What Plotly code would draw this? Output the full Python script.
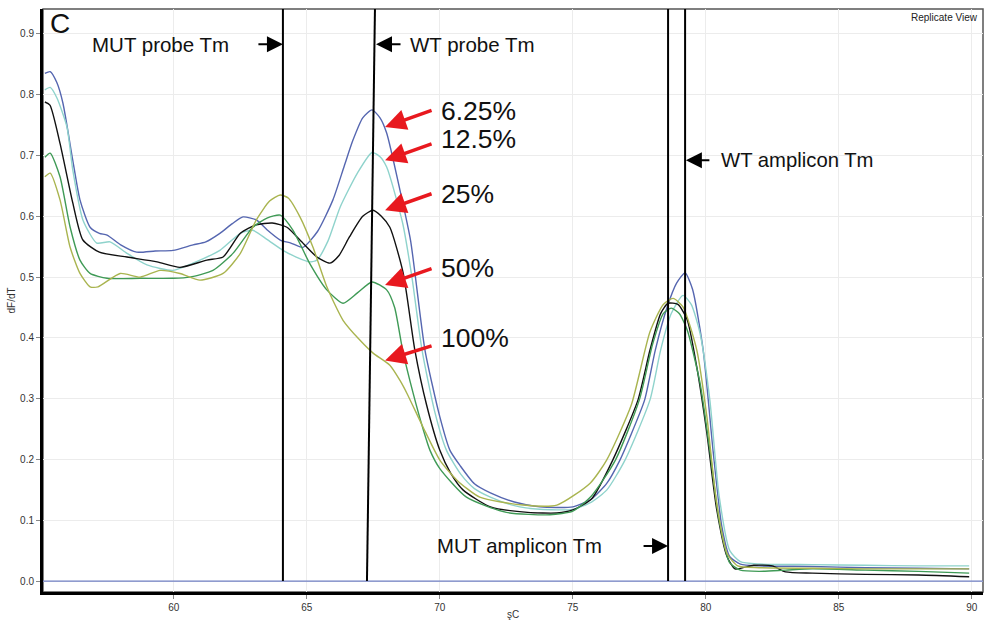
import plotly.graph_objects as go

# ---------------- data ----------------
blue_x = [55.15, 55.35, 55.6, 55.83, 56.2, 56.47, 56.85, 57.2, 57.49, 58.0, 58.6, 59.3, 59.97, 60.72, 61.2, 61.73, 62.2, 62.6, 63.1, 63.5, 64.0, 64.4, 64.85, 65.4, 65.98, 66.4, 66.73, 67.1, 67.45, 67.75, 68.0, 68.5, 68.9, 69.44, 70.0, 70.38, 70.76, 71.3, 71.9, 72.8, 73.76, 75.0, 75.7, 76.28, 76.77, 77.15, 77.7, 78.1, 78.54, 78.9, 79.22, 79.5, 79.9, 80.27, 80.6, 80.9, 81.3, 82.0, 84.0, 86.0, 88.0, 89.9]
blue_y = [0.835, 0.838, 0.82, 0.786, 0.692, 0.627, 0.582, 0.572, 0.569, 0.553, 0.541, 0.543, 0.544, 0.553, 0.558, 0.572, 0.588, 0.599, 0.594, 0.578, 0.561, 0.556, 0.549, 0.575, 0.627, 0.682, 0.725, 0.762, 0.775, 0.762, 0.737, 0.643, 0.56, 0.38, 0.27, 0.215, 0.19, 0.16, 0.145, 0.13, 0.122, 0.122, 0.135, 0.161, 0.199, 0.237, 0.298, 0.38, 0.45, 0.49, 0.507, 0.48, 0.38, 0.215, 0.09, 0.04, 0.028, 0.025, 0.024, 0.022, 0.021, 0.02]

cyan_x = [55.15, 55.35, 55.6, 55.98, 56.2, 56.58, 57.1, 57.6, 58.24, 58.99, 59.97, 60.72, 61.73, 62.5, 62.97, 63.5, 64.1, 64.6, 65.1, 65.38, 65.8, 66.25, 66.9, 67.45, 67.75, 68.0, 68.6, 68.95, 69.33, 69.8, 70.25, 70.8, 71.3, 71.9, 72.8, 73.76, 75.0, 75.7, 76.28, 76.96, 77.9, 78.3, 78.7, 79.14, 79.45, 79.78, 80.15, 80.5, 80.9, 81.3, 82.0, 84.0, 86.0, 88.0, 89.9]
cyan_y = [0.808, 0.812, 0.795, 0.747, 0.676, 0.594, 0.556, 0.558, 0.539, 0.52, 0.511, 0.523, 0.544, 0.572, 0.577, 0.562, 0.544, 0.533, 0.525, 0.528, 0.56, 0.615, 0.671, 0.705, 0.698, 0.681, 0.589, 0.5, 0.38, 0.28, 0.215, 0.175, 0.152, 0.138, 0.124, 0.118, 0.118, 0.13, 0.15, 0.199, 0.298, 0.38, 0.44, 0.47, 0.455, 0.408, 0.298, 0.14, 0.05, 0.032, 0.028, 0.027, 0.026, 0.025, 0.025]

black_x = [55.15, 55.34, 55.72, 56.2, 56.58, 57.2, 58.24, 59.37, 60.23, 61.24, 61.85, 62.5, 63.1, 63.7, 64.25, 64.74, 65.38, 65.87, 66.2, 66.6, 67.1, 67.49, 67.8, 68.12, 68.62, 69.06, 69.5, 70.0, 70.4, 70.87, 71.9, 73.3, 74.4, 75.0, 75.7, 76.5, 77.45, 77.9, 78.3, 78.58, 78.95, 79.3, 79.66, 80.04, 80.4, 80.8, 81.1, 81.4, 81.8, 82.5, 83.0, 84.0, 86.0, 88.0, 89.9]
black_y = [0.788, 0.783, 0.72, 0.622, 0.561, 0.541, 0.533, 0.525, 0.516, 0.528, 0.533, 0.572, 0.586, 0.589, 0.582, 0.561, 0.533, 0.523, 0.535, 0.566, 0.6, 0.61, 0.6, 0.582, 0.507, 0.38, 0.29, 0.215, 0.178, 0.15, 0.122, 0.113, 0.112, 0.117, 0.135, 0.199, 0.298, 0.38, 0.44, 0.457, 0.455, 0.43, 0.352, 0.243, 0.12, 0.04, 0.02, 0.022, 0.026, 0.025, 0.015, 0.013, 0.011, 0.01, 0.007]

green_x = [55.15, 55.35, 55.72, 56.1, 56.47, 56.85, 57.49, 58.73, 59.97, 60.6, 61.47, 62.22, 62.97, 63.5, 64.0, 64.48, 65.1, 65.75, 66.36, 66.9, 67.45, 68.0, 68.3, 68.6, 68.99, 69.37, 69.63, 70.0, 71.0, 72.5, 74.14, 75.0, 75.7, 76.6, 77.5, 78.0, 78.4, 78.7, 79.0, 79.3, 79.78, 80.15, 80.5, 80.9, 81.3, 82.0, 83.0, 84.0, 86.0, 88.0, 89.9]
green_y = [0.697, 0.704, 0.665, 0.582, 0.528, 0.506, 0.498, 0.498, 0.498, 0.5, 0.511, 0.539, 0.582, 0.597, 0.602, 0.577, 0.523, 0.479, 0.457, 0.474, 0.492, 0.479, 0.45, 0.38, 0.31, 0.25, 0.215, 0.185, 0.138, 0.113, 0.109, 0.115, 0.14, 0.199, 0.298, 0.39, 0.44, 0.449, 0.44, 0.413, 0.326, 0.215, 0.1, 0.03, 0.018, 0.016, 0.018, 0.02, 0.018, 0.016, 0.013]

olive_x = [55.15, 55.35, 55.72, 56.1, 56.47, 56.85, 57.15, 57.98, 58.73, 59.48, 60.23, 60.98, 61.85, 62.5, 63.1, 63.6, 64.0, 64.3, 64.74, 65.23, 65.75, 66.36, 67.0, 67.49, 68.12, 68.5, 68.76, 69.37, 70.0, 70.64, 71.5, 73.12, 74.4, 75.65, 76.27, 77.2, 77.9, 78.4, 78.77, 79.14, 79.66, 80.04, 80.4, 80.8, 81.2, 82.0, 84.0, 86.0, 88.0, 89.9]
olive_y = [0.665, 0.671, 0.627, 0.549, 0.506, 0.484, 0.484, 0.506, 0.5, 0.511, 0.506, 0.495, 0.506, 0.539, 0.594, 0.625, 0.635, 0.63, 0.599, 0.549, 0.484, 0.429, 0.396, 0.375, 0.355, 0.33, 0.309, 0.253, 0.199, 0.166, 0.138, 0.125, 0.125, 0.161, 0.199, 0.29, 0.41, 0.455, 0.465, 0.451, 0.38, 0.27, 0.13, 0.045, 0.025, 0.022, 0.021, 0.02, 0.02, 0.02]

series_names = ["6.25%", "12.5%", "25%", "50%", "100%"]
series_colors = ["#5566b0", "#8fd3cc", "#111111", "#3f9a56", "#a9b44f"]

x_ticks = [60, 65, 70, 75, 80, 85, 90]
y_ticks = [0.0, 0.1, 0.2, 0.3, 0.4, 0.5, 0.6, 0.7, 0.8, 0.9]

mut_probe_tm = 64.1
wt_probe_tm_top, wt_probe_tm_bottom = 67.56, 67.26
mut_amp_tm = 78.58
wt_amp_tm = 79.22

x_range = [55.08, 90.42]
y_range = [-0.018, 0.941]

FONT = "Arial, Liberation Sans, sans-serif"

fig = go.Figure()
for xs, ys, name, col in zip([blue_x, cyan_x, black_x, green_x, olive_x],
                             [blue_y, cyan_y, black_y, green_y, olive_y],
                             series_names, series_colors):
    fig.add_trace(go.Scatter(x=xs, y=ys, mode="lines", name=name,
                             line=dict(color=col, width=1.4, shape="spline", smoothing=0.6),
                             showlegend=False))

shapes = [
    dict(type="rect", xref="paper", yref="paper", x0=0, x1=1, y0=0, y1=1,
         line=dict(color="#555555", width=1.5), layer="below"),
    dict(type="line", xref="x", yref="y", x0=x_range[0], x1=x_range[1], y0=0, y1=0,
         line=dict(color="#7080c4", width=1.3)),
    dict(type="line", xref="x", yref="y", x0=mut_probe_tm, x1=mut_probe_tm, y0=0, y1=y_range[1],
         line=dict(color="black", width=2)),
    dict(type="line", xref="x", yref="y", x0=wt_probe_tm_bottom, x1=wt_probe_tm_top, y0=0, y1=y_range[1],
         line=dict(color="black", width=2)),
    dict(type="line", xref="x", yref="y", x0=mut_amp_tm, x1=mut_amp_tm, y0=0, y1=y_range[1],
         line=dict(color="black", width=2)),
    dict(type="line", xref="x", yref="y", x0=wt_amp_tm, x1=wt_amp_tm, y0=0, y1=y_range[1],
         line=dict(color="black", width=2)),
]

ann = []
def txt(x, y, s, size, xanchor="left", **kw):
    ann.append(dict(x=x, y=y, xref="x", yref="y", text=s, showarrow=False,
                    xanchor=xanchor, yanchor="middle",
                    font=dict(family=FONT, size=size, color="#111111"), **kw))

def arrow(x, y, ax, ay, color, width, size):
    ann.append(dict(x=x, y=y, xref="x", yref="y", text="", showarrow=True,
                    ax=ax, ay=ay, arrowhead=2, arrowsize=size, arrowwidth=width,
                    arrowcolor=color, standoff=0, startstandoff=0))

# Label "C"
ann.append(dict(x=0.005, y=0.975, xref="paper", yref="paper", text="C", showarrow=False,
                xanchor="left", yanchor="middle", font=dict(family=FONT, size=28, color="#111111")))
# Tm labels
txt(56.85, 0.883, "MUT probe Tm", 20.5)
arrow(mut_probe_tm, 0.883, -26, 0, "black", 2, 1.6)
txt(68.8, 0.883, "WT probe Tm", 20.5)
arrow(67.6, 0.883, 26, 0, "black", 2, 1.6)
txt(80.5, 0.692, "WT amplicon Tm", 20.3)
arrow(79.25, 0.692, 25, 0, "black", 2, 1.6)
txt(69.8, 0.0576, "MUT amplicon Tm", 20.3)
arrow(mut_amp_tm, 0.0576, -26, 0, "black", 2, 1.6)

# percentage labels and red arrows
pct_text_y = [0.774, 0.727, 0.637, 0.515, 0.40]
pct_tip_y = [0.747, 0.692, 0.61, 0.487, 0.363]
pct_tail_dy = [-17, -17, -17, -17, -15]
for name, ty, py, dy in zip(series_names, pct_text_y, pct_tip_y, pct_tail_dy):
    txt(69.98, ty, name, 26.5)
    arrow(67.94, py, 48, dy, "#e8191f", 3.5, 1.2)

# axis titles / corner text
ann.append(dict(x=-0.033, y=0.5, xref="paper", yref="paper", text="dF/dT", textangle=-90,
                showarrow=False, xanchor="center", yanchor="middle",
                font=dict(family=FONT, size=10, color="#333333")))
ann.append(dict(x=0.5, y=-0.039, xref="paper", yref="paper", text="şC",
                showarrow=False, xanchor="center", yanchor="middle",
                font=dict(family=FONT, size=10, color="#333333")))
ann.append(dict(x=0.997, y=0.985, xref="paper", yref="paper", text="Replicate View",
                showarrow=False, xanchor="right", yanchor="middle",
                font=dict(family=FONT, size=10, color="#222222")))

fig.update_layout(
    width=987, height=623,
    margin=dict(l=43, r=4, t=9, b=31),
    paper_bgcolor="white", plot_bgcolor="white",
    shapes=shapes, annotations=ann,
    font=dict(family=FONT, size=10, color="#333333"),
    xaxis=dict(range=x_range, tickvals=x_ticks, ticks="outside", ticklen=4, tickcolor="#888888",
               showgrid=True, gridcolor="#ececec", gridwidth=1, zeroline=False,
               showline=True, linecolor="black", linewidth=3,
               tickfont=dict(family=FONT, size=10, color="#333333")),
    yaxis=dict(range=y_range, tickvals=y_ticks, tickformat=".1f", ticks="outside", ticklen=4,
               tickcolor="#888888", showgrid=True, gridcolor="#ececec", gridwidth=1, zeroline=False,
               showline=True, linecolor="black", linewidth=3,
               tickfont=dict(family=FONT, size=10, color="#333333")),
)

fig.write_html("out.html")
